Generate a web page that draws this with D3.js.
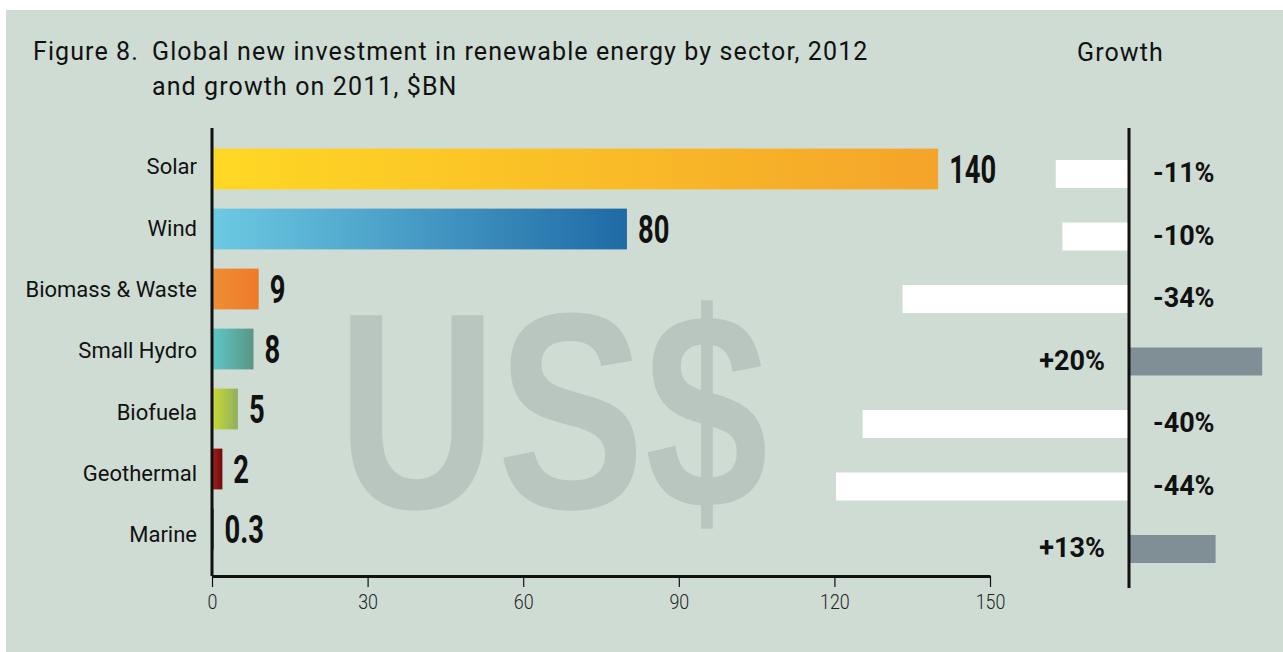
<!DOCTYPE html>
<html>
<head>
<meta charset="utf-8">
<script src="https://cdn.jsdelivr.net/npm/d3@7"></script>
<style>
  html, body { margin: 0; padding: 0; background: #ffffff; }
  #chart { width: 1283px; height: 652px; }
  text { font-family: Roboto, "Noto Sans", sans-serif; }
</style>
</head>
<body>
<div id="chart"></div>
<script>

// chart data
const sectors = ["Solar", "Wind", "Biomass & Waste", "Small Hydro", "Biofuela", "Geothermal", "Marine"];
const investment = [140, 80, 9, 8, 5, 2, 0.3];        // $BN, 2012
const growth = [-11, -10, -34, 20, -40, -44, 13];      // % change on 2011
const xTicks = [0, 30, 60, 90, 120, 150];
const valueLabels = ["140", "80", "9", "8", "5", "2", "0.3"];

// bar gradient colours (left -> right), same order as sectors
const barColors = [
    ["#ffd824", "#f4a42a"],
    ["#6ccae2", "#1f6aa6"],
    ["#ef8f33", "#ee7a2b"],
    ["#5cc8c8", "#5c9585"],
    ["#cadb34", "#8fb05e"],
    ["#a8201e", "#6e0c0c"],
    ["#2a2a2a", "#111111"]
];

const rows = sectors.map((s, i) => ({
    sector: s,
    value: investment[i],
    label: valueLabels[i],
    growth: growth[i],
    colors: barColors[i],
    id: "grad" + i
}));


/*************************
***** SET DIMENSIONS *****
*************************/

const width = 1283;
const height = 652;

const plotLeft = 212;
const plotRight = 990;
const plotTop = 128;
const plotBottom = 576;

const growthZero = 1129;
const growthBottom = 588;


/*****************
***** SCALES *****
*****************/

const x = d3.scaleLinear()
    .domain([0, 150])
    .range([plotLeft, plotRight]);

const y = d3.scaleBand()
    .domain(sectors)
    .range([139, 559])
    .paddingInner(0.32)
    .paddingOuter(0.16);

// category names sit on a slightly wider pitch than the bars
const yLabel = d3.scalePoint()
    .domain(sectors)
    .range([166, 534]);

// growth: ~6.66px per percentage point either side of the divider
const g = d3.scaleLinear()
    .domain([-50, 25])
    .range([growthZero - 333, growthZero + 166.5]);

const gy = d3.scaleBand()
    .domain(sectors)
    .range([142.75, 580.25])
    .paddingInner(0.552)
    .paddingOuter(0.276);


/*********************
***** APPEND SVG *****
*********************/

const svg = d3.select("#chart")
    .append("svg")
    .attr("width", width)
    .attr("height", height);

const defs = svg.append("defs");

defs.selectAll("linearGradient")
    .data(rows)
    .enter()
    .append("linearGradient")
    .attr("id", d => d.id)
    .attr("x1", "0%").attr("x2", "100%")
    .attr("y1", "0%").attr("y2", "0%")
    .selectAll("stop")
    .data(d => d.colors)
    .enter()
    .append("stop")
    .attr("offset", (d, i) => i === 0 ? "0%" : "100%")
    .attr("stop-color", d => d);

// panel background
svg.append("rect")
    .attr("x", 6)
    .attr("y", 10)
    .attr("width", width - 6)
    .attr("height", height - 10)
    .attr("fill", "#cfdcd4");

// big watermark
svg.append("text")
    .attr("x", 337)
    .attr("y", 508)
    .attr("textLength", 431)
    .attr("lengthAdjust", "spacingAndGlyphs")
    .style("font-family", "'Liberation Sans', Arial, sans-serif")
    .style("font-weight", 700)
    .style("font-size", "280px")
    .attr("fill", "#b8c6bf")
    .text("US$");


/*******************
***** HEADER *****
*******************/

const header = svg.append("g").attr("id", "header")
    .style("font-size", "25px")
    .style("font-weight", 400)
    .style("letter-spacing", "1.1px")
    .attr("fill", "#111");

header.append("text").attr("x", 33).attr("y", 60).text("Figure 8.");
header.append("text").attr("x", 152).attr("y", 60)
    .text("Global new investment in renewable energy by sector, 2012");
header.append("text").attr("x", 152).attr("y", 95)
    .text("and growth on 2011, $BN");
header.append("text").attr("x", 1077).attr("y", 61).text("Growth");


/***************************
***** MAIN BAR CHART *****
***************************/

const plot = svg.append("g").attr("id", "plot");

plot.selectAll(".bar")
    .data(rows)
    .enter()
    .append("rect")
    .attr("class", "bar")
    .attr("x", x(0))
    .attr("y", d => y(d.sector))
    .attr("width", d => x(d.value) - x(0))
    .attr("height", y.bandwidth())
    .attr("fill", d => `url(#${d.id})`);

plot.selectAll(".valueLabel")
    .data(rows)
    .enter()
    .append("text")
    .attr("class", "valueLabel")
    .attr("transform", d =>
        `translate(${x(d.value) + 11},${y(d.sector) + y.bandwidth() / 2}) scale(0.72,1)`)
    .attr("dy", "0.36em")
    .style("font-size", "38px")
    .style("font-weight", 700)
    .attr("fill", "#111")
    .text(d => d.label);

// x-axis
const xAxis = svg.append("g")
    .attr("class", "xAxis")
    .attr("transform", `translate(0,${plotBottom})`)
    .call(d3.axisBottom(x).tickValues(xTicks).tickSize(11).tickSizeOuter(0).tickPadding(7));

xAxis.select(".domain").attr("stroke", "#111").attr("stroke-width", 3);
xAxis.selectAll(".tick line").attr("stroke", "#111").attr("stroke-width", 1.2);
xAxis.selectAll(".tick text")
    .attr("transform", "scale(0.85,1)")
    .style("font-size", "21px")
    .style("font-weight", 300)
    .attr("fill", "#222");

// y-axis: category labels only, line drawn separately
const yAxis = svg.append("g")
    .attr("class", "yAxis")
    .attr("transform", `translate(${plotLeft},0)`)
    .call(d3.axisLeft(yLabel).tickSize(0).tickPadding(15));

yAxis.select(".domain").remove();
yAxis.selectAll(".tick text")
    .attr("dy", "0.36em")
    .style("font-size", "22px")
    .attr("fill", "#111");

svg.append("line")
    .attr("x1", plotLeft).attr("x2", plotLeft)
    .attr("y1", plotTop).attr("y2", plotBottom)
    .attr("stroke", "#111")
    .attr("stroke-width", 3);


/***********************
***** GROWTH PANEL *****
***********************/

const growthG = svg.append("g").attr("id", "growth");

growthG.selectAll(".growthBar")
    .data(rows)
    .enter()
    .append("rect")
    .attr("class", "growthBar")
    .attr("x", d => Math.min(g(d.growth), g(0)))
    .attr("y", d => gy(d.sector))
    .attr("width", d => Math.abs(g(d.growth) - g(0)))
    .attr("height", gy.bandwidth())
    .attr("fill", d => d.growth < 0 ? "#ffffff" : "#808e95");

growthG.append("line")
    .attr("x1", g(0)).attr("x2", g(0))
    .attr("y1", plotTop).attr("y2", growthBottom)
    .attr("stroke", "#111")
    .attr("stroke-width", 3);

growthG.selectAll(".growthLabel")
    .data(rows)
    .enter()
    .append("text")
    .attr("class", "growthLabel")
    .attr("transform", d => {
        const lx = d.growth < 0 ? g(0) + 24 : g(0) - 24;
        return `translate(${lx},${gy(d.sector) + gy.bandwidth() / 2 - 1.5})`;
    })
    .attr("text-anchor", d => d.growth < 0 ? "start" : "end")
    .attr("dy", "0.36em")
    .style("font-size", "27px")
    .style("font-weight", 700)
    .attr("fill", "#111")
    .text(d => (d.growth > 0 ? "+" : "") + d.growth + "%");

</script>
</body>
</html>
